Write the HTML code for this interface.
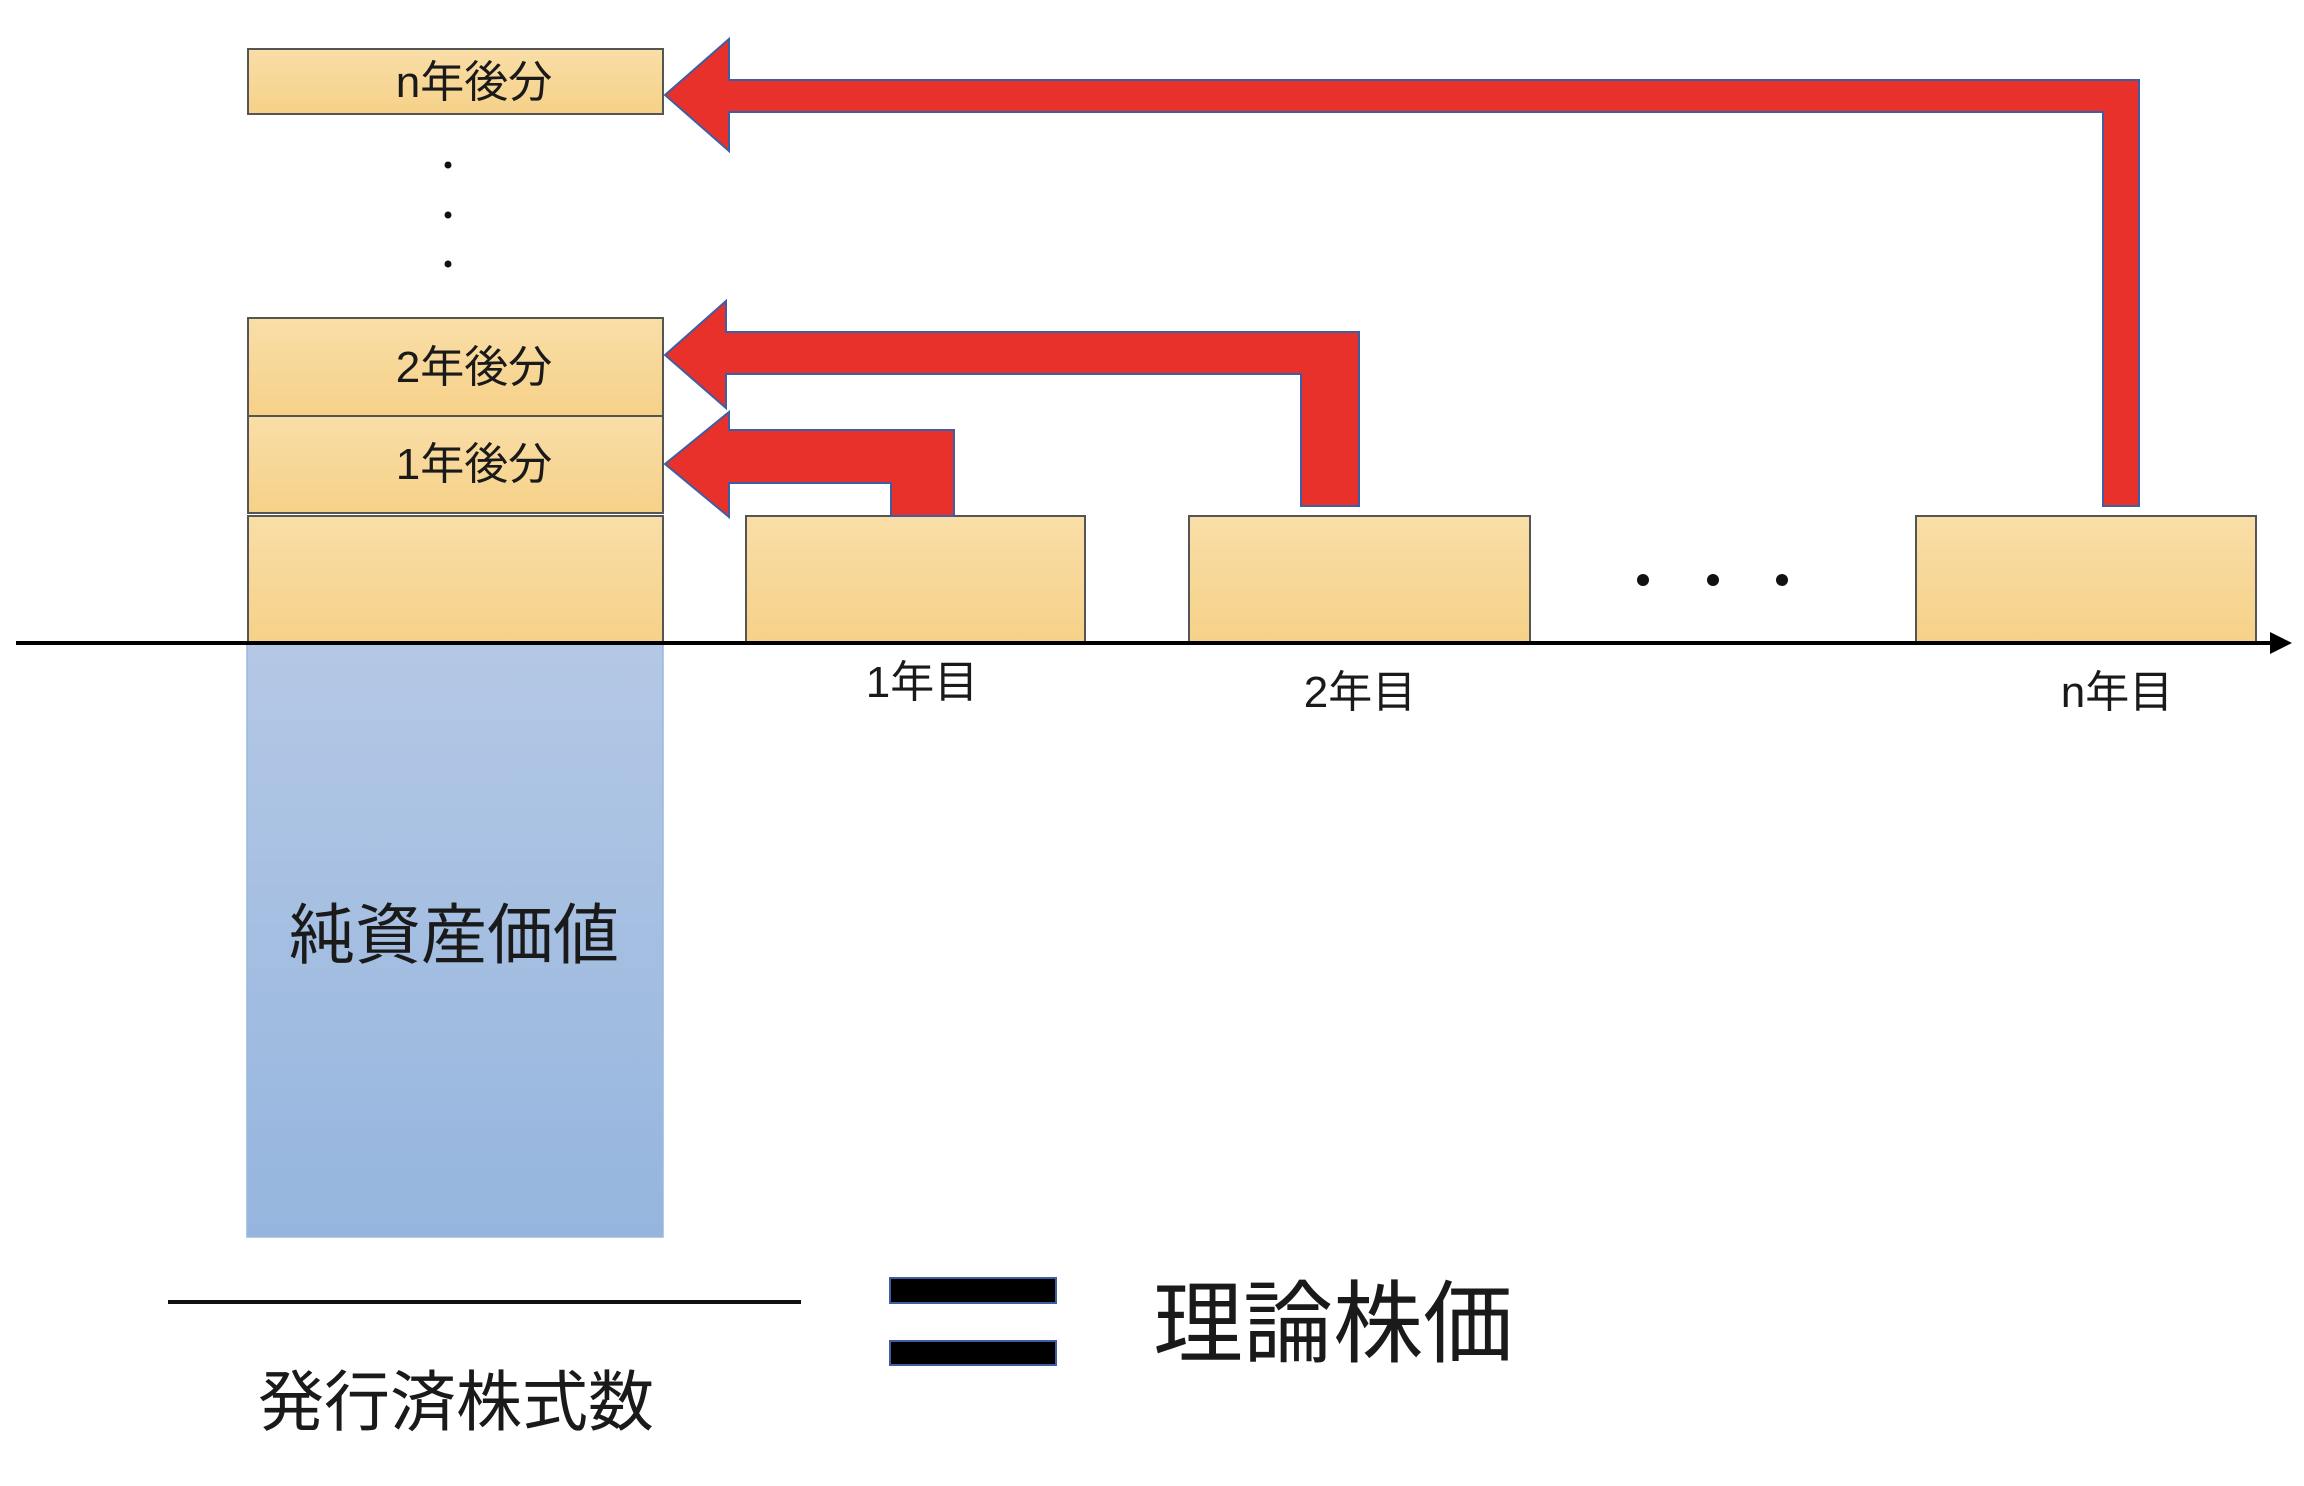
<!DOCTYPE html>
<html><head><meta charset="utf-8"><style>
html,body{margin:0;padding:0;background:#fff;}
svg{display:block;}
text{font-family:"Liberation Sans","Noto Sans CJK JP",sans-serif;fill:#1a1a1a;}
</style></head><body>
<svg width="2304" height="1486" viewBox="0 0 2304 1486" xmlns="http://www.w3.org/2000/svg">
<defs>
<linearGradient id="og" x1="0" y1="0" x2="0" y2="1"><stop offset="0" stop-color="#f9dea8"/><stop offset="1" stop-color="#f6d188"/></linearGradient>
<linearGradient id="bg" x1="0" y1="0" x2="0" y2="1"><stop offset="0" stop-color="#b4c8e5"/><stop offset="1" stop-color="#95b5de"/></linearGradient>
</defs>
<!-- blue box -->
<rect x="247" y="643" width="416" height="594" fill="url(#bg)" stroke="#9ab7e0" stroke-width="1.5"/>
<text x="454" y="958" font-size="66" text-anchor="middle">純資産価値</text>
<!-- orange boxes -->
<g fill="url(#og)" stroke="#555" stroke-width="2">
<rect x="248" y="49" width="415" height="65"/>
<rect x="248" y="318" width="415" height="98"/>
<rect x="248" y="416" width="415" height="97"/>
<rect x="248" y="516" width="415" height="127"/>
<rect x="746" y="516" width="339" height="127"/>
<rect x="1189" y="516" width="341" height="127"/>
<rect x="1916" y="516" width="340" height="127"/>
</g>
<g font-size="44" text-anchor="middle">
<text x="474" y="97">n年後分</text>
<text x="474" y="382">2年後分</text>
<text x="474" y="479">1年後分</text>
<text x="922" y="697">1年目</text>
<text x="1360" y="707">2年目</text>
<text x="2117" y="707">n年目</text>
</g>
<!-- vertical dots -->
<g fill="#111">
<circle cx="448" cy="165" r="3.5"/><circle cx="448" cy="215" r="3.5"/><circle cx="448" cy="264" r="3.5"/>
<circle cx="1643" cy="580" r="6"/><circle cx="1713" cy="580" r="6"/><circle cx="1782" cy="580" r="6"/>
</g>
<!-- arrows -->
<g fill="#e8312a" stroke="#3e5da3" stroke-width="2" stroke-linejoin="miter">
<polygon points="665,95 729,39 729,80 2139,80 2139,506 2103,506 2103,112 729,112 729,151"/>
<polygon points="665,355 726,301 726,332 1359,332 1359,506 1301,506 1301,374 726,374 726,408"/>
<polygon points="665,464 729,412 729,430 954,430 954,516 891,516 891,483 729,483 729,517"/>
</g>
<!-- axis -->
<line x1="16" y1="643" x2="2275" y2="643" stroke="#000" stroke-width="4"/>
<polygon points="2292,643 2270,632 2270,654" fill="#000"/>
<!-- fraction -->
<line x1="168" y1="1302" x2="801" y2="1302" stroke="#111" stroke-width="4"/>
<text x="456" y="1425" font-size="66" text-anchor="middle">発行済株式数</text>
<!-- equals -->
<rect x="890" y="1278" width="166" height="25" fill="#000" stroke="#3e5da3" stroke-width="2"/>
<rect x="890" y="1341" width="166" height="24" fill="#000" stroke="#3e5da3" stroke-width="2"/>
<text x="1333" y="1355" font-size="90" text-anchor="middle">理論株価</text>
</svg>
</body></html>
